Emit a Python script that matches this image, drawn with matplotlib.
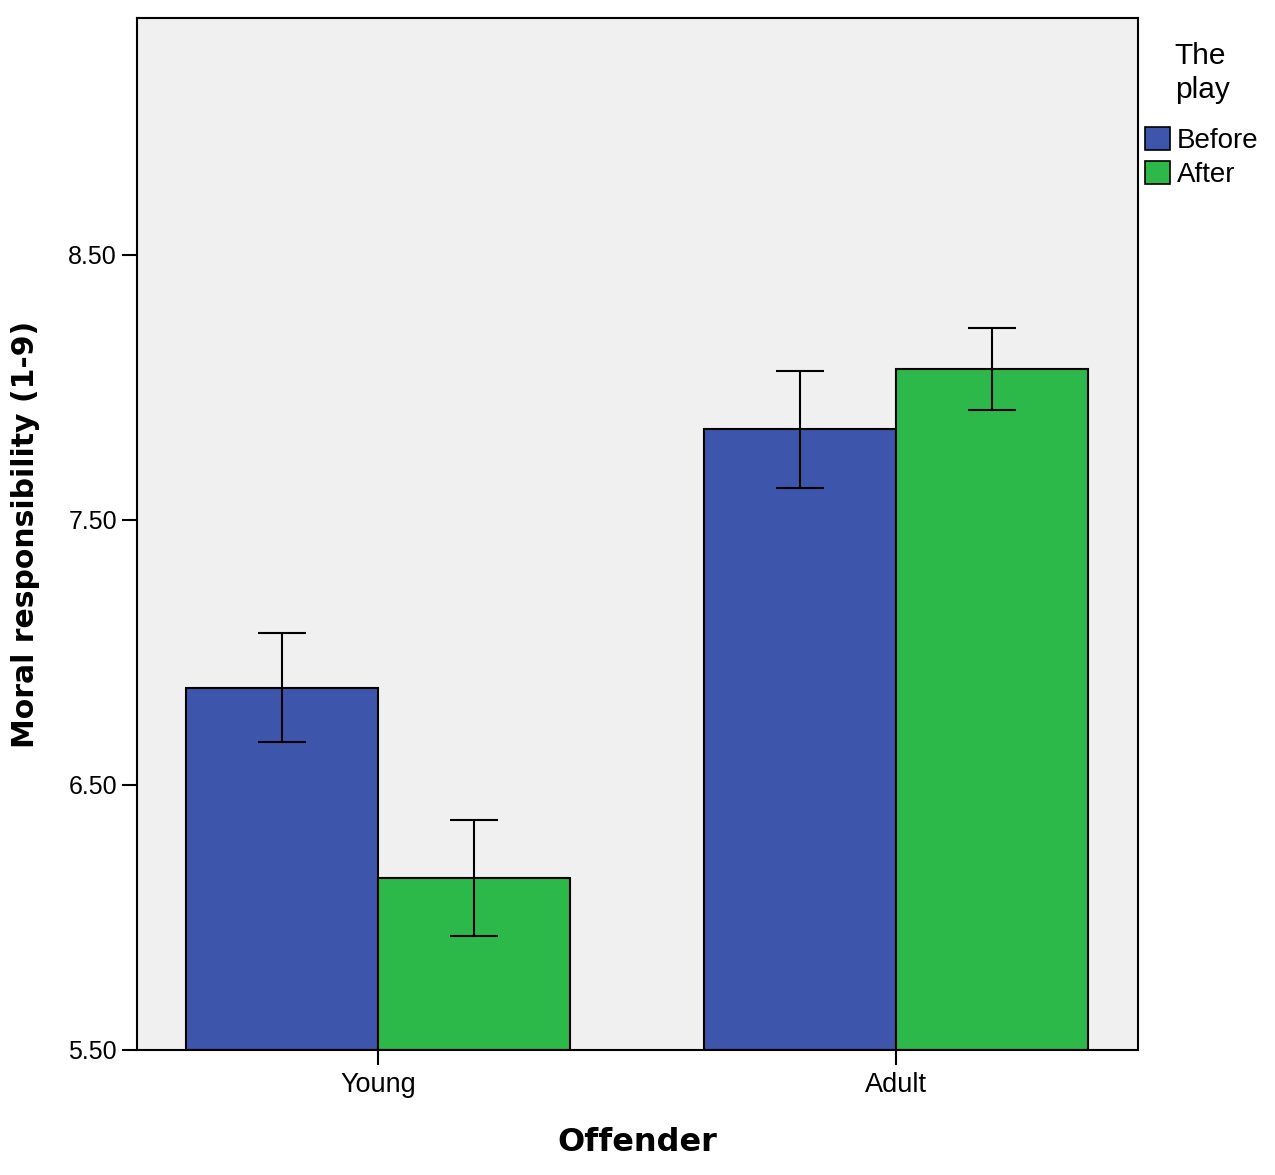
import numpy as np
import matplotlib.pyplot as plt
from matplotlib.patches import Patch

# data
offenders = ['Young', 'Adult']
groups = ['Before', 'After']
means_before = [6.866, 7.843]
means_after = [6.149, 8.070]
err_before_lo = [6.662, 7.621]
err_before_hi = [7.074, 8.062]
err_after_lo = [5.930, 7.915]
err_after_hi = [6.368, 8.225]

colors = ['#3D56AC', '#2DB84A']

plt.rcParams['font.family'] = ['Liberation Sans', 'DejaVu Sans']

fig = plt.figure(figsize=(12.75, 11.75), dpi=100)
ax = fig.add_axes([0.1075, 0.1064, 0.785, 0.8783])
ax.set_facecolor('#F0F0F0')

x = np.arange(len(offenders))
w = 0.371
means = [means_before, means_after]
los = [err_before_lo, err_after_lo]
his = [err_before_hi, err_after_hi]
for i in range(2):
    xs = x + (i - 0.5) * w
    m = np.array(means[i])
    ax.bar(xs, m - 5.5, bottom=5.5, width=w, color=colors[i],
           edgecolor='black', linewidth=1.5, zorder=2)
    yerr = [m - np.array(los[i]), np.array(his[i]) - m]
    ax.errorbar(xs, m, yerr=yerr, fmt='none', ecolor='black',
                elinewidth=1.5, capsize=17, capthick=1.5, zorder=3)

ax.set_xlim(-0.466, 1.467)
ax.set_ylim(5.5, 9.394)
ax.set_yticks([5.5, 6.5, 7.5, 8.5])
ax.set_yticklabels(['5.50', '6.50', '7.50', '8.50'])
ax.set_xticks(x)
ax.set_xticklabels(offenders)
ax.tick_params(axis='y', labelsize=18, width=1.5, length=11, direction='out')
ax.tick_params(axis='x', labelsize=19.5, width=1.5, length=11, direction='out', pad=5)
for s in ax.spines.values():
    s.set_linewidth(1.5)

ax.set_ylabel('Moral responsibility (1-9)', fontsize=21.5, fontweight='bold',
              family='DejaVu Sans', labelpad=20)
ax.set_xlabel('Offender', fontsize=23, fontweight='bold',
              family='DejaVu Sans', labelpad=21)

handles = [Patch(facecolor=colors[i], edgecolor='black', linewidth=1.2, label=groups[i])
           for i in range(2)]
leg = ax.legend(handles=handles, title='The\nplay', loc='upper left',
                bbox_to_anchor=(0.999, 0.985), frameon=False, fontsize=20,
                title_fontsize=21.5, handlelength=0.9, handleheight=0.9,
                handletextpad=0.25, borderaxespad=0.1, labelspacing=0.25,
                borderpad=0.2)
leg.get_title().set_linespacing(1.3)
leg._legend_box.sep = 16

fig.savefig('out.png', dpi=100)
